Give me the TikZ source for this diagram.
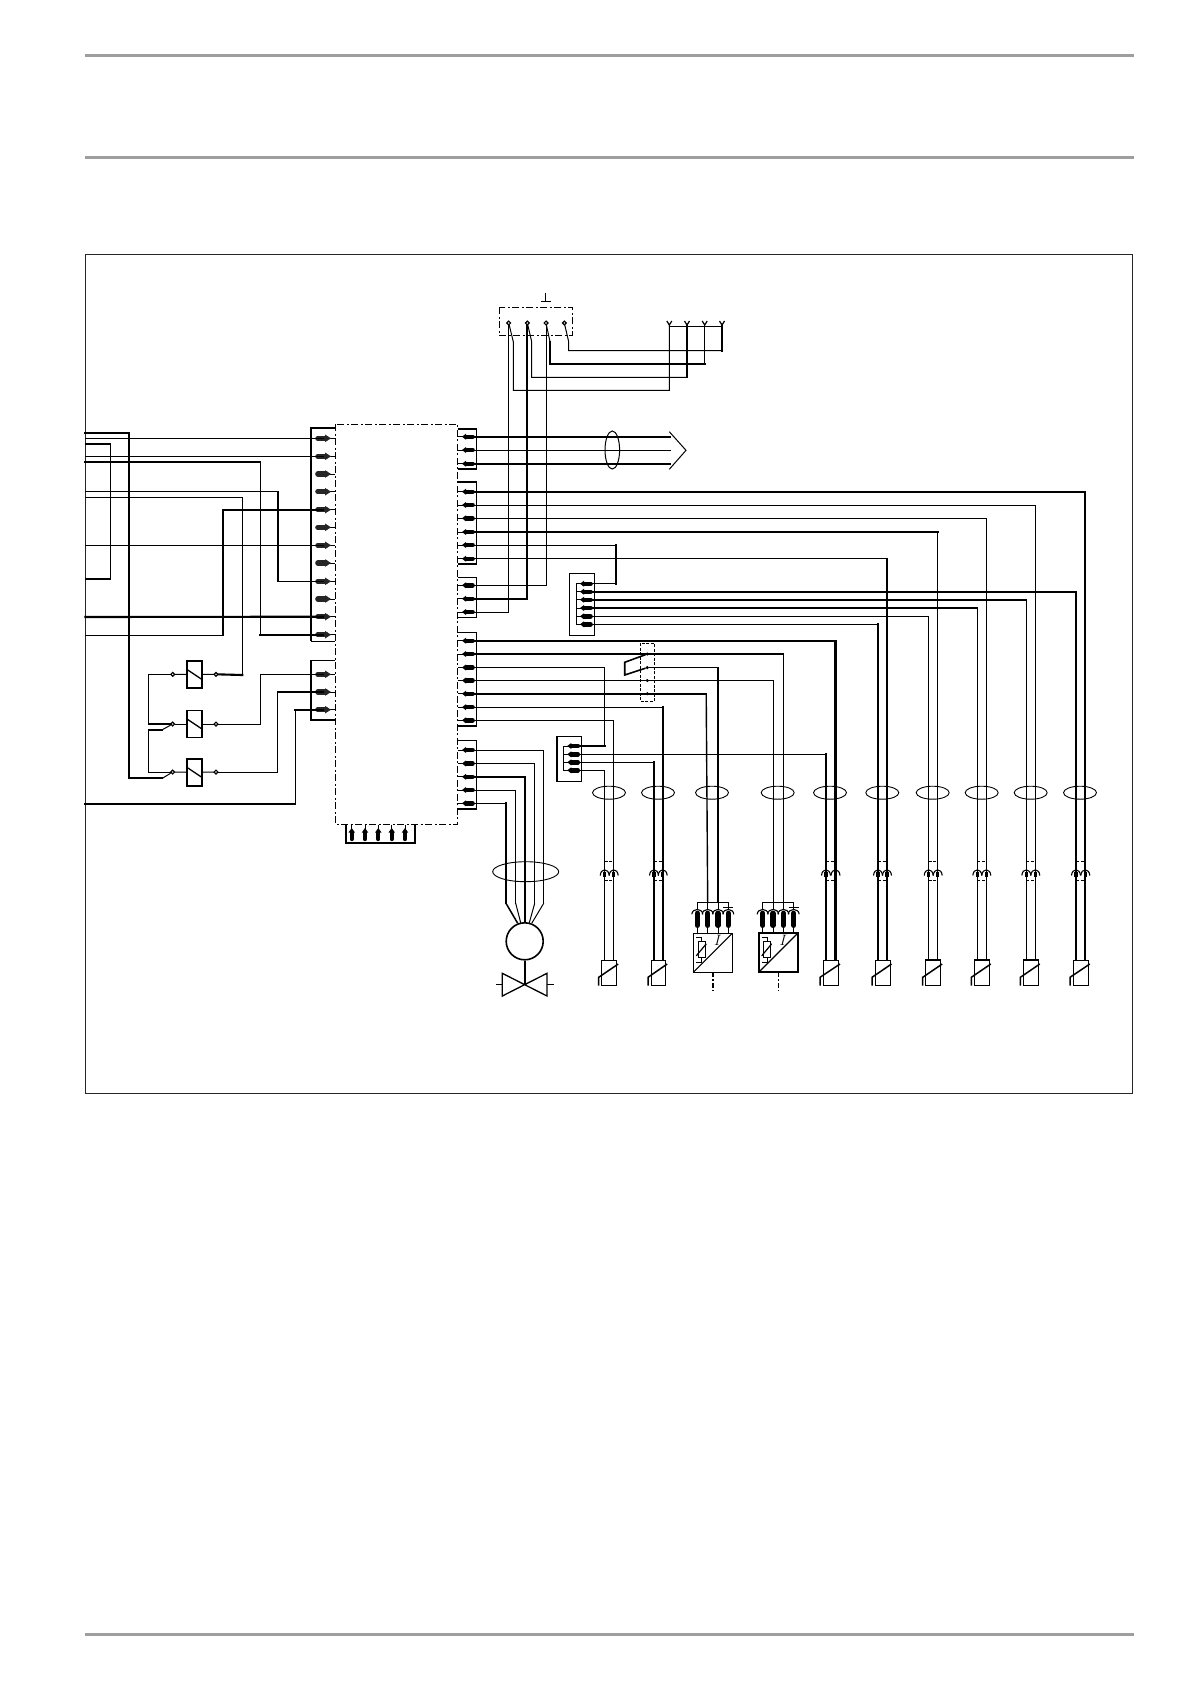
\documentclass[tikz,border=0pt]{standalone}
\tikzset{
  wt/.style={line width=1pt,line cap=rect},
  wm/.style={line width=1.4pt,line cap=rect},
  wk/.style={line width=2.1pt,line cap=rect},
  hdr/.style={line width=3pt,color=black!38},
  dd/.style={line width=0.9pt,dash pattern=on 7pt off 2.5pt on 2pt off 2.5pt},
  ds/.style={line width=0.9pt,dash pattern=on 3pt off 1.5pt},
  opendot/.style={circle,draw,line width=1.2pt,fill=white,inner sep=0pt,minimum size=3.8pt},
  fulldot/.style={circle,fill,inner sep=0pt,minimum size=3.4pt},
  relaybox/.style={rectangle,draw,line width=1.9pt,fill=white,inner sep=0pt,minimum width=15.4pt,minimum height=27pt},
  termR/.pic={\draw[line width=0.9pt] (6,0)--(12,0);
    \draw[line width=5.2pt,line cap=round,black!85] (-5.2,0)--(3,0);
    \fill[black!85] (2,-3.8)--(8,0)--(2,3.8)--cycle;},
  termL/.pic={\draw[line width=0.9pt] (-10,0)--(-4,0);
    \draw[line width=4.4pt,line cap=round] (4.6,0)--(-2,0);
    \fill (-2,-3)--(-6,0)--(-2,3)--cycle;},
  termU/.pic={\draw[line width=0.9pt] (0,-10)--(0,-5);
    \draw[line width=4.2pt,line cap=round] (0,4.6)--(0,-2);
    \fill (-3.2,-2)--(0,-6.5)--(3.2,-2)--cycle;},
  yfork/.pic={\draw[line width=1.2pt] (-2.5,-4)--(0,0)--(2.5,-4);}
}
% horizontal part in style 1, vertical part in style 2, from 3 to 4
\newcommand{\wirehv}[4]{\draw[#1] (#3) -- (#3 -| #4); \draw[#2] (#3 -| #4) -- (#4);}
\newcommand{\plug}[1]{%
  \draw[line width=1.1pt] (#1-4.5,875.5) .. controls (#1-4,868) and (#1+4,868) .. (#1+4.5,875.5);
  \draw[line width=3.4pt] (#1,871.5) -- (#1,877);}
% name, left x, right x, rectangle width
\newcommand{\sensor}[4]{%
  \coordinate (#1a) at (#2,960);
  \coordinate (#1b) at (#3,960);
  \draw[line width=#4] (#2-3,960) rectangle (#3+3,985.7);
  \draw[line width=1.5pt] (#2-6,985.7) -- (#2-6,977.3) -- (#3+4.5,964);
  \draw[ds] (#2,861.7) -- (#3,861.7);
  \draw[ds] (#2,880.3) -- (#3,880.3);
  \plug{#2}\plug{#3}}
% name, left x, frame width, stem width
\newcommand{\transducer}[4]{%
  \coordinate (#1a) at (#2+14.4,902.3);
  \coordinate (#1b) at (#2+24.7,902.3);
  \begin{scope}[shift={(#2,933.3)}]
    \draw[line width=#3] (0,0) rectangle (39,39);
    \draw[line width=1.2pt] (0,39) -- (39,0);
    \draw[line width=1pt] (4,-31) -- (35,-31);
    \foreach \c in {4,14.4,24.7,35}{
      \draw[line width=0.9pt] (\c,-31) -- (\c,-23);
      \draw[line width=1pt] (\c,-6) -- (\c,0);
      \draw[line width=1.1pt] (\c-5.5,-19) .. controls (\c-5,-25.5) and (\c+5,-25.5) .. (\c+5.5,-19);
      \draw[line width=5.4pt,line cap=round] (\c,-20) -- (\c,-8);}
    \draw[line width=1pt] (30,-25.5) -- (40,-25.5);
    \draw[line width=1pt,fill=white] (5,8.4) rectangle (12,24);
    \draw[line width=0.9pt] (3,4) -- (8.5,4) -- (8.5,8.4);
    \draw[line width=0.9pt] (8.5,24) -- (8.5,29.5) -- (3,29.5);
    \draw[line width=1.2pt] (3,22.5) -- (13,10.5);
    \node[inner sep=0pt,font=\itshape\fontsize{15}{15}\selectfont] at (23.4,7.5) {I};
    \draw[#4,dash pattern=on 5pt off 2pt on 1.5pt off 2pt] (19.4,39) -- (19.4,59);
  \end{scope}}
\begin{document}
\begin{tikzpicture}[x=1pt,y=-1pt]
\useasboundingbox (0,0) rectangle (1191,1684);
% page rules
\draw[hdr] (85,55.3) -- (1134,55.3);
\draw[hdr] (85,157.3) -- (1134,157.3);
\draw[hdr] (85,1634.5) -- (1134,1634.5);
% frame
\draw[line width=1pt,black!85] (85.3,254.5) rectangle (1132.5,1093.3);
% main unit
\draw[dd] (335.3,424.3) rectangle (457.7,824.3);
% connector blocks
\draw[line width=1.6pt] (335.3,428) -- (311,428) -- (311,641);
\draw[line width=1pt] (311,641) -- (335.3,641);
\draw[line width=1.2pt] (335.3,660.7) -- (311,660.7) -- (311,720) -- (335.3,720);
\draw[line width=1pt] (458,429) -| (476.7,469) -- (458,469);
\draw[line width=1.8pt] (458,429) -- (476.7,429) (458,469) -- (476.7,469);
\draw[line width=1.2pt] (458,481.7) -| (476.7,564) -- (458,564);
\draw[line width=1.8pt] (458,481.7) -- (476.7,481.7) (458,564) -- (476.7,564);
\draw[line width=1pt] (458,577) -| (476.7,617.3) -- (458,617.3);
\draw[line width=1pt] (458,632.3) -| (476.7,726) -- (458,726);
\draw[line width=1.8pt] (458,726) -- (476.7,726);
\draw[line width=1pt] (458,740) -| (476.7,809.3) -- (458,809.3);
\draw[line width=1.8pt] (458,809.3) -- (476.7,809.3);
\draw[line width=1.2pt] (569.3,573.7) rectangle (594.3,635.3);
\draw[line width=1pt] (556.7,736.7) rectangle (581.3,781.3);
\draw[line width=1.8pt] (556.7,736.7) -- (556.7,781.3);
\draw[line width=1pt] (576.3,583.7) -- (576.3,624.3);
\draw[line width=1pt] (563.3,746) -- (563.3,770.3);
\draw[line width=1.8pt] (346.3,824.3) -- (346.3,842.7) -- (415,842.7) -- (415,824.3);
% named free ends at the left edge
\foreach \n/\y in {1/433,2/438.3,3/444,4/456.3,5/462,6/491.7,7/497.3,8/545.3,9/579,10/617,11/635.3,12/803.7}
  \coordinate (W\n) at (85.3,\y);
% terminals
\foreach \n/\y in {1/438.3,2/456.3,3/474,4/491.7,5/509.7,6/527.3,7/545.3,8/563,9/581.3,10/599,11/616.7,12/634.7}
  {\coordinate (L\n) at (323,\y); \pic at (L\n) {termR};}
\foreach \n/\y in {1/674.3,2/692,3/709.7}
  {\coordinate (Q\n) at (323,\y); \pic at (Q\n) {termR};}
\foreach \n/\y in {1/436.7,2/450,3/463.7}
  {\coordinate (A\n) at (468,\y); \pic at (A\n) {termL};}
\foreach \n/\y in {1/491.7,2/505,3/518.3,4/532,5/545,6/558.7}
  {\coordinate (B\n) at (468,\y); \pic at (B\n) {termL};}
\foreach \n/\y in {1/585.3,2/598.7,3/612}
  {\coordinate (C\n) at (468,\y); \pic at (C\n) {termL};}
\foreach \n/\y in {1/640.7,2/654,3/667.5,4/680.5,5/693.7,6/707.2,7/720.3}
  {\coordinate (D\n) at (468,\y); \pic at (D\n) {termL};}
\foreach \n/\y in {1/750,2/763.5,3/776.8,4/790,5/803.3}
  {\coordinate (E\n) at (468,\y); \pic at (E\n) {termL};}
\foreach \n/\y in {1/583.7,2/591.7,3/599.7,4/608,5/616.3,6/624.3}
  {\coordinate (F\n) at (586,\y); \pic at (F\n) {termL};}
\foreach \n/\y in {1/746,2/754.3,3/762.3,4/770.3}
  {\coordinate (G\n) at (573.3,\y); \pic at (G\n) {termL};}
\foreach \x in {351.7,365,378.3,391.7,405}
  \pic at (\x,834.5) {termU};
% relays
\node[relaybox] (R1) at (194.5,674.5) {};
\node[relaybox] (R2) at (194.5,724) {};
\node[relaybox] (R3) at (194.5,772.4) {};
\foreach \n in {1,2,3}{
  \draw[line width=1.3pt] ([shift={(-6.7,-4.5)}]R\n.center) -- ([shift={(6.7,4.5)}]R\n.center);}
\node[opendot] (P1) at (172.7,674.3) {};
\node[opendot] (P2) at (172.7,724) {};
\node[opendot] (P3) at (172.7,772) {};
\node[opendot] (N1) at (216,674.3) {};
\node[opendot] (N2) at (216,724) {};
\node[opendot] (N3) at (216,772) {};
\foreach \n in {1,2,3}{
  \draw[wt] (P\n) -- (R\n);
  \draw[wt] (R\n) -- (N\n);}
\coordinate (J1) at (148.7,674.3);
\coordinate (J2) at (148.7,724);
\coordinate (J3) at (148.7,729.7);
\coordinate (J4) at (148.7,772);
\coordinate (J5) at (162.3,729.7);
\coordinate (J6) at (162.3,778.3);
\coordinate (J7) at (129,778.3);
\draw[wt] (P1) -- (J1) -- (J2);
\draw[wk] (J2) -- (P2);
\draw[wk] (J3) -- (J5);
\draw[line width=1pt] (J5) -- (P2);
\draw[wt] (J3) -- (J4) -- (P3);
% wires at left
\draw[wk] (W1) -| (J7);
\draw[wk] (J7) -- (J6);
\draw[line width=1pt] (J6) -- (P3);
\draw[wt] (W2) -- (L1);
\draw[wm] (W3) -| (110.3,579) -- (W9);
\draw[wt] (W4) -- (L2);
\draw[wk] (W5) -- (260.3,462);
\draw[wm] (260.3,462) -- (260.3,634.7);
\draw[wk] (260.3,634.7) -- (L12);
\draw[wm] (W6) -- (277.7,491.7);
\draw[wk] (277.7,491.7) -- (277.7,581.3);
\draw[wt] (277.7,581.3) -- (L9);
\draw[wt] (W7) -| (242.3,675);
\draw[wk] (242.3,675) -- (N1);
\draw[wk] (L5) -| (223,509.7);
\draw[wm] (223,509.7) -- (223,635.3);
\draw[wt] (223,635.3) -- (W11);
\draw[wt] (W8) -- (L7);
\draw[wk] (W10) -- (L11);
\draw[wk] (W12) -- (295.3,803.7);
\draw[wt] (295.3,803.7) -- (295.3,709.7);
\draw[wk] (295.3,709.7) -- (Q3);
\draw[wt] (N2) -- (260.3,724) -- (260.3,674.3) -- (Q1);
\draw[wt] (N3) -- (277.7,772) -- (277.7,692);
\draw[wk] (277.7,692) -- (Q2);
% top contact box
\draw[dd] (499.3,307.3) rectangle (572.3,335.3);
\draw[wt] (541,301.3) -- (550,301.3);
\draw[wt] (545.7,293.7) -- (545.7,301.3);
\node[opendot] (T1) at (508.7,323) {};
\node[opendot] (T2) at (527.3,323) {};
\node[opendot] (T3) at (546,323) {};
\node[opendot] (T4) at (564.3,323) {};
\coordinate (Y1) at (669.3,325);
\coordinate (Y2) at (687,325);
\coordinate (Y3) at (704.7,325);
\coordinate (Y4) at (722,325);
\foreach \n in {1,2,3,4} \pic at (Y\n) {yfork};
\draw[wt] (669.3,326.3) -- (722,326.3);
\draw[wt] (T1) -- (513.3,341.7) -- (513.3,390.3) -| (Y1);
\draw[wt] (T2) -- (531.7,341.7) -- (531.7,377.3) -- (687,377.3);
\draw[wk] (687,377.3) -- (Y2);
\draw[wt] (T3) -- (550,341.7);
\draw[wk] (550,341.7) -- (550,364) -- (704.7,364);
\draw[wt] (704.7,364) -- (Y3);
\draw[wt] (T4) -- (568.7,341.7) -- (568.7,350.7) -- (722,350.7);
\draw[wk] (722,350.7) -- (Y4);
\draw[wt] (T1) |- (C3);
\draw[wk] (T2) |- (C2);
\draw[wt] (T3) |- (C1);
% bus to the chevron
\coordinate (H1) at (670,436.7);
\coordinate (H2) at (670,450);
\coordinate (H3) at (670,463.7);
\draw[wk] (A1) -- (H1);
\draw[wt] (A2) -- (H2);
\draw[wk] (A3) -- (H3);
\draw[line width=1pt] (669.3,431.7) -- (686,450.3) -- (669.3,469.3);
\draw[line width=1pt] (612.3,450) ellipse [x radius=7.3,y radius=19];
% sensors
\sensor{Sa}{604.7}{613.7}{1pt}
\sensor{Sb}{654}{662.7}{1pt}
\sensor{Pa}{826}{835.5}{1pt}
\sensor{Pb}{878}{887}{1pt}
\sensor{Pc}{928.7}{937.7}{1.4pt}
\sensor{Pd}{977.3}{986.3}{1.4pt}
\sensor{Pe}{1026.3}{1035.3}{1.4pt}
\sensor{Pf}{1076}{1085.3}{1pt}
\transducer{Ta}{693.3}{1pt}{line width=2pt}
\transducer{Tb}{758.7}{1.7pt}{line width=1pt}
% cable loops
\foreach \x in {609,658,712,777.7,830,882.3,932.7,981.7,1030.7,1080}
  \draw[line width=0.9pt] (\x,792.7) ellipse [x radius=16.5,y radius=6.5];
\draw[line width=0.9pt] (525.7,871.7) ellipse [x radius=33,y radius=10];
% wires to the right
\wirehv{wk}{wk}{B1}{Pfb}
\wirehv{wt}{wt}{B2}{Peb}
\wirehv{wt}{wt}{B3}{Pdb}
\wirehv{wk}{wt}{B4}{Pcb}
\draw[wt] (B5) -- (616,545);
\draw[wk] (616,545) -- (616,583.7);
\draw[wt] (616,583.7) -- (F1);
\wirehv{wm}{wm}{B6}{Pbb}
\wirehv{wk}{wk}{F2}{Pfa}
\wirehv{wk}{wt}{F3}{Pea}
\wirehv{wk}{wt}{F4}{Pda}
\wirehv{wt}{wt}{F5}{Pca}
\wirehv{wt}{wk}{F6}{Pba}
\wirehv{wk}{wk}{D1}{Pab}
\wirehv{wk}{wt}{D2}{Tbb}
\draw[wt] (D3) -- (604.7,667.5) -- (604.7,746);
\draw[wk] (604.7,746) -- (G1);
\wirehv{wt}{wt}{D4}{Tba}
\draw[wk] (D5) -- (706.2,693.7);
\draw[wm] (706.2,693.7) -- (Taa);
\wirehv{wt}{wk}{D6}{Sbb}
\wirehv{wt}{wt}{D7}{Sab}
\wirehv{wt}{wk}{G2}{Paa}
\wirehv{wt}{wk}{G3}{Sba}
\wirehv{wt}{wt}{G4}{Saa}
% change-over element
\draw[ds] (640.3,643.3) rectangle (654.3,701.3);
\node[fulldot] (Z1) at (647.3,654) {};
\node[fulldot] (Z2) at (647.3,667.6) {};
\node[fulldot] (Z3) at (647.3,680.5) {};
\node[fulldot] (Z4) at (647.3,693.7) {};
\draw[line width=1.6pt] (Z1) -- (624.7,662.3) -- (624.7,675) -- (Z2);
\draw[wt] (Z2) -- (Z2 -| Tab);
\draw[wk] (Z2 -| Tab) -- (Tab);
% valve actuator
\coordinate (M5) at (506,903.3);
\coordinate (M4) at (515.7,903.3);
\coordinate (M3) at (525,903.3);
\coordinate (M2) at (534.7,903.3);
\coordinate (M1) at (543.7,903.3);
\wirehv{wt}{wt}{E1}{M1}
\wirehv{wt}{wt}{E2}{M2}
\wirehv{wk}{wk}{E3}{M3}
\wirehv{wt}{wt}{E4}{M4}
\wirehv{wt}{wk}{E5}{M5}
\node[circle,draw,line width=1.6pt,inner sep=0pt,minimum size=37pt] (Mot) at (524.7,941.3) {};
\draw[line width=1.5pt] (M5) -- (517.7,923.3);
\draw[line width=1pt] (M4) -- (520.7,922.7);
\draw[line width=1.6pt] (M3) -- (525,922.7);
\draw[line width=1pt] (M2) -- (529.3,922.7);
\draw[line width=1pt] (M1) -- (531.7,923.3);
\coordinate (V0) at (524.7,984.5);
\draw[line width=1.6pt] (Mot) -- (V0);
\draw[line width=1.3pt] (502.3,973.3) -- (547,996) -- (547,973.3) -- (502.3,996) -- cycle;
\draw[wt] (496,984.5) -- (502.3,984.5);
\draw[wt] (547,984.5) -- (553.3,984.5);
\end{tikzpicture}
\end{document}
